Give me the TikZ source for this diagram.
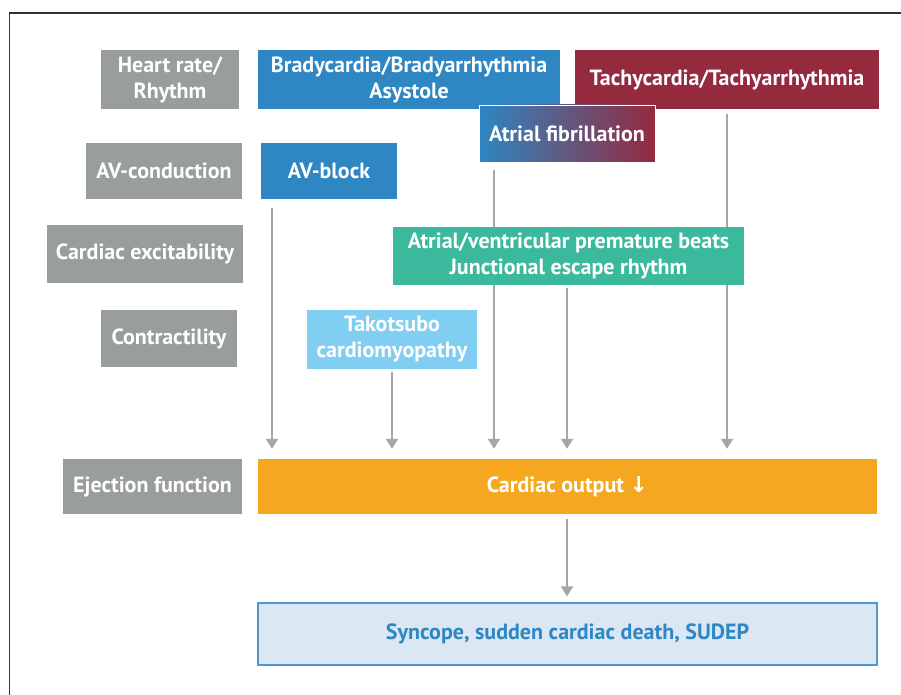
\documentclass[tikz,border=0pt]{standalone}
\usepackage{fontspec}
\setmainfont{PT Sans}
\newfontfamily\arrfont{DejaVu Sans}
\usetikzlibrary{arrows.meta,backgrounds}
\definecolor{lblgray}{HTML}{999D9C}
\definecolor{cblue}{HTML}{2E86C2}
\definecolor{cred}{HTML}{952A3E}
\definecolor{cgreen}{HTML}{3BB99D}
\definecolor{clight}{HTML}{80CEF2}
\definecolor{corange}{HTML}{F5A81F}
\definecolor{sfill}{HTML}{DCE7F4}
\definecolor{sborder}{HTML}{4E97D1}
\definecolor{agray}{HTML}{A6A6A6}
\definecolor{framec}{HTML}{333333}
\tikzset{
  x=1pt,y=1pt,
  base/.style={rectangle, inner sep=0pt, align=center, text=white,
    font=\bfseries\fontsize{22}{26}\selectfont},
  lbl/.style={base, fill=lblgray},
  bluebox/.style={base, fill=cblue},
  redbox/.style={base, fill=cred},
  arr/.style={draw=agray, line width=2pt, -{Triangle[width=12pt,length=10pt]}},
}
\begin{document}
\begin{tikzpicture}
\useasboundingbox (0,0) rectangle (901,-695);
\draw[framec, line width=1.3pt] (9.5,-700) -- (9.5,-13) -- (905,-13);

% labels
\node[lbl, minimum width=138, minimum height=59] (l1) at (170,-79.5) {Heart rate/\\Rhythm};
\node[lbl, minimum width=156, minimum height=56] (l2) at (164,-171) {AV-conduction};
\node[lbl, minimum width=196, minimum height=58] (l3) at (145,-254) {Cardiac excitability};
\node[lbl, minimum width=136, minimum height=57] (l4) at (169,-338.5) {Contractility};
\node[lbl, minimum width=179, minimum height=55] (l5) at (152.5,-486.5) {Ejection function};

% boxes
\node[bluebox, minimum width=302, minimum height=59] (brady) at (409,-79.5) {Bradycardia/Bradyarrhythmia\\Asystole};
\node[redbox, minimum width=304, minimum height=59] (tachy) at (727,-79.5) {Tachycardia/Tachyarrhythmia};
\node[base, minimum width=176, minimum height=57, left color=cblue, right color=cred, draw=white, line width=0.8pt] (af) at (567,-133.5) {Atrial fibrillation};
\node[bluebox, minimum width=136, minimum height=56] (avb) at (329,-171) {AV-block};
\node[base, fill=cgreen, minimum width=351, minimum height=58] (pvc) at (568.5,-256) {Atrial/ventricular premature beats\\Junctional escape rhythm};
\node[base, fill=clight, minimum width=170, minimum height=59] (tako) at (392,-339.5) {Takotsubo\\cardiomyopathy};
\node[base, fill=corange, minimum width=619, minimum height=55] (co) at (567.5,-486.5) {Cardiac output {\arrfont\bfseries\char"2193}};
\node[base, fill=sfill, draw=sborder, line width=1.2pt, text=cblue, minimum width=619, minimum height=62] (sync) at (567.5,-634) {Syncope, sudden cardiac death, SUDEP};

% connector start points
\coordinate (avbout) at (272,-208);
\coordinate (takoout) at (392,-372);
\coordinate (afout) at (494,-170);
\coordinate (pvcout) at (567,-288);
\coordinate (tachyout) at (727,-114);
\coordinate (coout) at (567,-519);

\begin{scope}[on background layer]
\draw[arr, shorten >=10pt] (avbout) -- (avbout |- co.north);
\draw[arr, shorten >=10pt] (takoout) -- (takoout |- co.north);
\draw[arr, shorten >=10pt] (afout) -- (afout |- co.north);
\draw[arr, shorten >=10pt] (pvcout) -- (pvcout |- co.north);
\draw[arr, shorten >=10pt] (tachyout) -- (tachyout |- co.north);
\draw[arr, shorten >=6pt] (coout) -- (coout |- sync.north);
\end{scope}
\end{tikzpicture}
\end{document}
